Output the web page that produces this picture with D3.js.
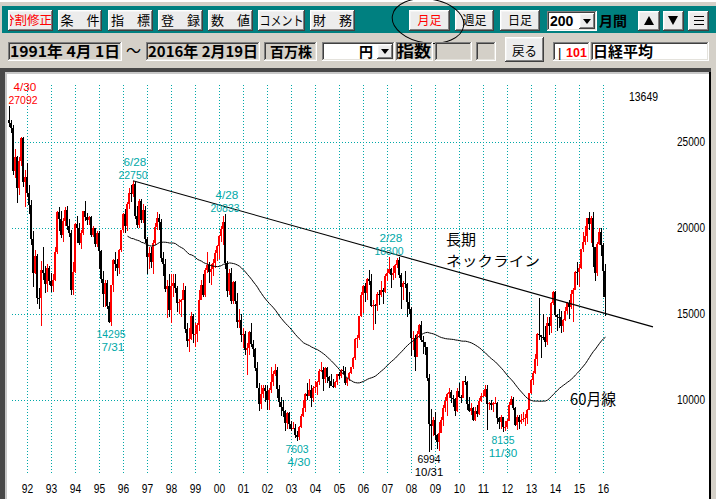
<!DOCTYPE html>
<meta charset="utf-8">
<style>
body{margin:0;background:#d4d0c8;overflow:hidden}
svg{display:block}
</style>
<script src="https://d3js.org/d3.v7.min.js"></script>
<svg width="716" height="499"></svg>
<script>
// Nikkei 225 monthly, 1991-04 .. 2016-02
var startYear = 1991, startMonth = 4;
var firstOpen = 26292;
var closes = [
  26111,25790,23291,24120,22336,23916,25222,22687,22984,
  22023,21339,19346,17391,18348,15952,15910,17555,17399,16767,17684,16925,
  16627,16953,18591,20919,20552,19590,20380,21027,20105,19704,16408,17417,
  20229,19997,19111,19725,20973,20644,20462,20628,19564,19990,19076,19723,
  18650,17053,16140,16807,15437,14517,16678,18117,17913,17655,18744,19868,
  20813,20125,21407,22041,21956,22531,20692,20167,21556,20467,21020,19361,
  18330,18557,18003,19151,20068,20604,20331,18229,17888,16458,16636,15259,
  16628,16831,16527,15641,15670,15830,16379,14108,13406,13564,14883,13842,
  13859,14367,15837,16702,16112,17530,17862,17437,17605,17942,18558,18934,
  19540,19959,20337,17974,16332,17411,15727,16861,15747,14539,14649,13786,
  13843,12883,12999,13934,13262,12969,11860,10713,9774,10366,10697,10543,
  9997,10587,11024,11492,11763,10621,9877,9619,9383,8640,9216,8579,
  8340,8363,7973,7831,8425,9083,9563,10344,10219,10560,10101,10677,
  10783,11041,11715,11762,11236,11858,11325,11081,10823,10771,11030,11488,
  11388,11740,11668,11009,11277,11584,11899,12413,13574,13607,14872,16111,
  16650,16205,17059,16906,15467,15505,15456,16140,16127,16399,16274,17225,
  17383,17604,17287,17400,17875,18138,17248,16569,16785,16737,15680,15307,
  13592,13603,12525,13849,14338,13481,13376,13072,11259,8576,8512,8859,
  7994,7568,8109,8828,9522,9958,10356,10492,10133,10034,9345,10546,
  10198,10126,11089,11057,9768,9382,9537,8824,9369,9202,9937,10228,
  10237,10624,9755,9849,9693,9816,9833,8955,8700,8988,8434,8455,
  8802,9723,10084,9521,8543,9007,8695,8840,8870,8928,9446,10395,
  11138,11559,12397,13860,13774,13677,13668,13388,14455,14327,15661,16291,
  14914,14841,14827,14304,14632,15162,15620,15424,16173,16413,17459,17450,
  17674,18798,19207,19520,20563,20236,20585,18890,17388,19083,19747,19034,
  17518,15967
];
var highs = [
  27092,26300,26000,24600,24200,24100,25300,25300,23400,
  23800,22500,21600,19800,18700,18500,16500,18100,18900,17800,17900,17800,
  17400,17300,18900,21000,21200,21000,20600,21200,21300,20500,19900,18000,
  20300,20700,20300,19900,21000,21552,20900,20700,20700,20100,20000,19800,
  19800,18700,17500,17000,17000,15700,16700,18200,18600,18200,18800,19900,
  20900,21100,21500,22300,22500,22750,22700,21300,21700,21700,21400,21300,
  19500,18900,18900,19300,20300,20910,20800,20500,18600,18200,17000,17300,
  17300,17300,17300,16600,15900,15900,16800,16600,14500,14200,15100,15000,
  14500,14500,16400,17000,17300,17700,18600,18000,17900,18200,18700,19000,
  19600,20100,20700,20833,18100,17600,17700,16900,16900,16200,15300,15000,
  14200,14000,13300,14000,14500,13500,13000,12200,11000,10900,10900,10900,
  10900,10700,11900,11700,12081,11900,10900,10200,10000,9400,9300,9300,
  8800,8700,8600,8200,8500,9200,10000,10400,11000,11238,10900,10800,
  11100,11100,11800,12195,11900,11900,11900,11400,11500,11200,11100,11500,
  11600,11800,12000,11900,11300,11600,11900,12500,13600,13800,14900,16300,
  16700,16800,17100,17563,17300,15800,15600,16300,16400,16900,16500,17300,
  17600,18300,17700,17800,17900,18240,18297,17400,16900,17488,16800,16300,
  15400,14000,13800,14000,14400,14600,13700,13400,13100,11500,9500,9000,
  9300,8000,8700,9000,9700,10170,10400,10700,10600,10300,10100,10700,
  11000,10300,11100,11400,11100,10200,9800,9600,9600,9700,10100,10400,
  10600,10900,10900,9900,10000,9900,10200,9900,9000,9100,9000,8800,
  8900,9900,10255,10200,9600,9100,9100,9200,9300,9200,9500,10400,
  11200,11700,12700,13900,15942,13800,15000,14300,14800,14800,15700,16320,
  16320,15000,15300,15200,14700,15400,15700,15800,16400,16500,17500,18030,
  17900,18800,19778,20133,20600,20952,20700,20946,18900,19200,20012,20000,
  19100,17905
];
var lows = [
  25880,25500,23100,22900,21456,21900,23600,22400,21200,
  21800,20800,19000,16598,17300,15600,15300,14309,17000,16200,16300,16700,
  16300,16300,16900,18500,19800,19400,19200,20100,19900,19500,16078,16100,
  17370,19100,19000,18800,19600,20400,20200,20200,19500,19500,18900,18900,
  17600,16800,15381,15400,15300,14485,14295,16300,17500,17200,17300,18600,
  19700,19700,19800,21100,21500,21800,20500,20000,20000,20300,20300,19100,
  17300,17600,17700,17303,19000,19900,19900,18000,17200,16300,14775,14800,
  14488,16000,16200,15100,15000,14800,15800,13900,13100,12787,13500,13300,
  13100,13400,14000,15800,16000,16000,17400,16800,16700,17200,17700,18100,
  18200,19200,19000,17600,16000,16100,15600,15600,15600,14200,14200,13400,
  13000,12600,11433,12600,13100,12500,11700,10700,9382,9500,10100,9900,
  9400,9420,10400,10800,11400,10100,9600,9075,9000,8197,8300,8300,
  8200,8300,7800,7603,7700,8400,9000,9300,10000,10300,9600,9900,
  10400,10300,10900,11600,10505,11000,11000,10700,10800,10700,10700,10900,
  11200,11300,11500,10900,10800,11100,11500,11800,12300,13000,13500,14800,
  15059,15700,15800,16700,15400,14045,14400,15200,15500,16000,15600,16200,
  16900,17300,16500,17000,17100,17700,17100,15262,15800,16500,14800,15000,
  12572,12900,11691,12500,13600,13400,12700,12600,11100,6994,7100,7900,
  7700,7150,7055,8100,8500,9300,9050,10100,9800,9600,9080,9300,
  10100,9800,10100,10900,9400,9300,9100,8800,8800,9000,9100,9900,
  10200,10200,8227,9400,9400,9300,9800,8600,8300,8300,8135,8200,
  8300,8800,9700,9400,8500,8238,8300,8600,8700,8500,8600,9400,
  10350,10900,11500,12000,13500,12415,13500,13100,13200,13800,13900,15500,
  14800,13995,14200,13885,13960,14600,15000,14700,15300,14529,16400,16700,
  16592,17600,18600,19000,19200,19900,19100,17714,16901,17200,19000,18400,
  16017,14865
];
var maLength = 60;
var yearLabels = ["92","93","94","95","96","97","98","99","00","01","02","03","04",
                  "05","06","07","08","09","10","11","12","13","14","15","16"];
var priceTicks = [10000, 15000, 20000, 25000];
var marks = [
  ["1991-04", 27092, "4/30"],
  ["1995-07", 14295, "7/31"],
  ["1996-06", 22750, "6/28"],
  ["2000-04", 20833, "4/28"],
  ["2003-04", 7603, "4/30"],
  ["2007-02", 18300, "2/28"],
  ["2008-10", 6994, "10/31"],
  ["2011-11", 8135, "11/30"]
];
var neckline = [["1996-06", 22750], ["2018-02", 14250]];

var svg = d3.select("svg");
var JP = "'Noto Sans CJK JP', sans-serif";
var NUM = "'Liberation Sans', Arial, sans-serif";
var CYAN = "#00a8a8";

function monthIdx(s) {
  var p = s.split("-");
  return (+p[0] - startYear) * 12 + (+p[1] - startMonth);
}

// ---------- window chrome ----------
svg.append("rect").attr("width", 716).attr("height", 499).attr("fill", "#d4d0c8");
svg.append("rect").attr("width", 716).attr("height", 2).attr("fill", "#ffffff");
svg.append("rect").attr("x", 2).attr("y", 6).attr("width", 714).attr("height", 27).attr("fill", "#008080");

function bevel(x0, y0, w, h, raised, face) {
  var g = svg.append("g").attr("shape-rendering", "crispEdges").attr("fill", "none");
  g.append("rect").attr("x", x0).attr("y", y0).attr("width", w).attr("height", h).attr("fill", face);
  var c = raised ? ["#ffffff", "#404040", "#f4f4f4", "#808080"] : ["#808080", "#ffffff", "#404040", "#e4e2dc"];
  g.append("path").attr("stroke", c[0]).attr("d", "M" + (x0 + .5) + "," + (y0 + h - 1) + "V" + (y0 + .5) + "H" + (x0 + w - 1));
  g.append("path").attr("stroke", c[1]).attr("d", "M" + x0 + "," + (y0 + h - .5) + "H" + (x0 + w - .5) + "V" + y0);
  g.append("path").attr("stroke", c[2]).attr("d", "M" + (x0 + 1.5) + "," + (y0 + h - 2) + "V" + (y0 + 1.5) + "H" + (x0 + w - 2));
  g.append("path").attr("stroke", c[3]).attr("d", "M" + (x0 + 1) + "," + (y0 + h - 1.5) + "H" + (x0 + w - 1.5) + "V" + (y0 + 1));
  return g;
}
function label(t, xx, yy, opt) {
  opt = opt || {};
  var s = svg.append("text").attr("x", xx).attr("y", yy).text(t)
    .attr("font-family", opt.font || JP).attr("font-size", opt.size || 13)
    .attr("font-weight", opt.bold ? "bold" : "normal")
    .attr("fill", opt.color || "#000").attr("text-anchor", opt.anchor || "start");
  if (opt.len) s.attr("textLength", opt.len).attr("lengthAdjust", "spacingAndGlyphs");
  return s;
}

// row 1 buttons
var row1 = [
  [58, 44, "条　件"], [108, 45, "指　標"], [158, 45, "登　録"], [208, 45, "数　値"],
  [258, 47, "コメント"], [310, 45, "財　務"]
];
bevel(8, 10, 45, 21, true, "#ececec");
svg.append("clipPath").attr("id", "b1").append("rect").attr("x", 10).attr("y", 10).attr("width", 42).attr("height", 21);
label("分割修正", 52, 25, {color: "#ff0000", anchor: "end", size: 12.5}).attr("clip-path", "url(#b1)");
row1.forEach(function(b) {
  bevel(b[0], 10, b[1], 21, true, "#ececec");
  label(b[2], b[0] + b[1] / 2, 25, {anchor: "middle", len: b[2] === "コメント" ? 44 : null});
});
[[409, 41, "月足", "#ff0000"], [455, 39, "週足", "#000"], [500, 40, "日足", "#000"]].forEach(function(b) {
  bevel(b[0], 10, b[1], 21, true, "#ececec");
  label(b[2], b[0] + b[1] / 2, 25, {anchor: "middle", size: 12, color: b[3]});
});
bevel(547, 11, 50, 20, false, "#ffffff");
label("200", 550, 26, {font: NUM, size: 14, bold: true});
bevel(579, 13, 16, 16, true, "#ececec");
svg.append("path").attr("d", "M583,19H591L587,24Z").attr("fill", "#000");
label("月間", 599, 26, {size: 14, bold: true});
bevel(638, 11, 22, 20, true, "#ececec");
svg.append("path").attr("d", "M644,25H654L649,16Z").attr("fill", "#000");
bevel(663, 11, 21, 20, true, "#ececec");
svg.append("path").attr("d", "M668,16H678L673,25Z").attr("fill", "#000");
bevel(688, 11, 21, 20, true, "#ececec");
svg.append("path").attr("d", "M693.5,16.5H703.5M693.5,20.5H703.5M693.5,24.5H703.5").attr("stroke", "#000").attr("shape-rendering", "crispEdges");

// hand-drawn circle around 月足
svg.append("ellipse").attr("cx", 0).attr("cy", 0).attr("rx", 36).attr("ry", 22)
  .attr("transform", "translate(428,21) rotate(8)")
  .attr("fill", "none").attr("stroke", "#000").attr("stroke-width", 1);

// row 2
bevel(8, 42, 114, 19, false, "#d4d0c8");
label("1991年 4月 1日", 10, 57, {size: 15, bold: true, len: 110});
label("～", 126, 56, {size: 15});
bevel(146, 42, 114, 19, false, "#d4d0c8");
label("2016年 2月19日", 148, 57, {size: 15, bold: true, len: 110});
bevel(264, 42, 53, 19, false, "#d4d0c8");
label("百万株", 291, 57, {size: 14, bold: true, anchor: "middle"});
bevel(322, 42, 73, 19, false, "#ffffff");
label("円", 366, 57, {size: 14, bold: true, anchor: "middle"});
bevel(377, 44, 16, 15, true, "#ececec");
svg.append("path").attr("d", "M381,49H389L385,54Z").attr("fill", "#000");
bevel(396, 42, 37, 19, false, "#d4d0c8");
label("指数", 397, 57, {size: 16, bold: true, len: 34});
bevel(435, 42, 37, 19, false, "#d4d0c8");
bevel(476, 42, 20, 19, false, "#d4d0c8");
bevel(505, 37, 39, 25, true, "#ececec");
label("戻る", 524.5, 56, {size: 12.5, anchor: "middle"});
bevel(553, 42, 37, 19, false, "#ffffff");
label("|", 558, 57, {font: NUM, size: 13});
label("101", 566, 57, {font: NUM, size: 12.5, bold: true, color: "#ff0000"});
bevel(591, 42, 118, 19, false, "#ffffff");
label("日経平均", 593, 57, {size: 15, bold: true});

// chart frame
svg.append("rect").attr("x", 0).attr("y", 68).attr("width", 711).attr("height", 431).attr("fill", "#484848");
svg.append("rect").attr("x", 5).attr("y", 72).attr("width", 706).attr("height", 427).attr("fill", "#c8c8c8");
svg.append("rect").attr("x", 7).attr("y", 74).attr("width", 702).attr("height", 425).attr("fill", "#ffffff");
svg.append("rect").attr("x", 709).attr("y", 72).attr("width", 2).attr("height", 427).attr("fill", "#000");

// ---------- chart ----------
var n = closes.length;
var x = d3.scaleLinear().domain([0, n - 1]).range([9, 9 + 2 * (n - 1)]);
var y = d3.scaleLinear().domain([10000, 25000]).range([400, 142]);

var yearIdx = yearLabels.map(function(d, k) { return monthIdx((1992 + k) + "-01"); });

var grid = svg.append("g").attr("stroke", CYAN).attr("stroke-dasharray", "1,2")
  .attr("shape-rendering", "crispEdges");
grid.selectAll(".h").data(priceTicks).enter().append("line")
  .attr("x1", 12).attr("x2", 609)
  .attr("y1", function(d) { return Math.round(y(d)) + .5; })
  .attr("y2", function(d) { return Math.round(y(d)) + .5; });
grid.selectAll(".v").data(yearIdx).enter().append("line")
  .attr("y1", 85).attr("y2", 473)
  .attr("x1", function(d) { return x(d) + .5; })
  .attr("x2", function(d) { return x(d) + .5; });

// axes
var xAxis = d3.axisBottom(x).tickValues(yearIdx).tickSize(0)
  .tickFormat(function(d) { return yearLabels[yearIdx.indexOf(d)]; });
var gx = svg.append("g").attr("transform", "translate(0,481)").call(xAxis);
gx.select(".domain").remove();
gx.selectAll("text").attr("font-family", NUM).attr("font-size", 12).attr("fill", "#000")
  .attr("textLength", 11.4).attr("lengthAdjust", "spacingAndGlyphs");

var yAxis = d3.axisLeft(y).tickValues(priceTicks).tickSize(0).tickFormat(d3.format("d"));
var gy = svg.append("g").attr("transform", "translate(708,0)").call(yAxis);
gy.select(".domain").remove();
gy.selectAll("text").attr("font-family", NUM).attr("font-size", 12).attr("fill", "#000")
  .attr("textLength", 28).attr("lengthAdjust", "spacingAndGlyphs");

// candles
var bars = closes.map(function(c, i) {
  return {i: i, o: i ? closes[i - 1] : firstOpen, h: highs[i], l: lows[i], c: c};
});
var cg = svg.append("g").attr("shape-rendering", "crispEdges");
var cand = cg.selectAll("g").data(bars).enter().append("g")
  .attr("fill", function(d) { return d.c >= d.o ? "#ff0000" : "#000000"; });
cand.append("rect")
  .attr("x", function(d) { return x(d.i); }).attr("width", 1)
  .attr("y", function(d) { return Math.round(y(d.h)); })
  .attr("height", function(d) { return Math.max(1, Math.round(y(d.l)) - Math.round(y(d.h))); });
cand.append("rect")
  .attr("x", function(d) { return x(d.i) - 1; }).attr("width", 2)
  .attr("y", function(d) { return Math.round(y(Math.max(d.o, d.c))); })
  .attr("height", function(d) { return Math.max(1, Math.round(y(Math.min(d.o, d.c))) - Math.round(y(Math.max(d.o, d.c)))); });

// 60-month moving average
var ma = [];
for (var i = maLength - 1; i < n; i++) {
  ma.push({i: i, v: d3.mean(closes.slice(i - maLength + 1, i + 1))});
}
svg.append("path").datum(ma)
  .attr("d", d3.line().x(function(d) { return x(d.i) + .5; }).y(function(d) { return y(d.v); }))
  .attr("fill", "none").attr("stroke", "#000").attr("stroke-width", 1);

// neckline
svg.append("line")
  .attr("x1", x(monthIdx(neckline[0][0]))).attr("y1", y(neckline[0][1]))
  .attr("x2", x(monthIdx(neckline[1][0]))).attr("y2", y(neckline[1][1]))
  .attr("stroke", "#000").attr("stroke-width", 1.1);

// peak / trough labels
var maxH = d3.max(highs), minL = d3.min(lows);
marks.forEach(function(m) {
  var i = monthIdx(m[0]), v = m[1], vs = String(v);
  var isHigh = highs[i] === v;
  var col = v === maxH ? "#ff0000" : (v === minL ? "#000000" : CYAN);
  var cx = Math.max(x(i), 23), yy = y(v);
  var dOff = m[2].length === 4 ? 2 : 0;
  var o = {font: NUM, size: 11, color: col, anchor: "middle"};
  label(vs, cx, isHigh ? yy - 2 : yy + 11.5, Object.assign({len: vs.length * 5.8}, o));
  label(m[2], cx + dOff, isHigh ? yy - 15 : yy + 24.5, Object.assign({len: m[2].length * 5.7}, o));
});

// current MA value
label(String(Math.round(ma[ma.length - 1].v)), 629, 101, {font: NUM, size: 12, len: 29});

// annotations
label("長期", 446, 245, {size: 14.5, len: 30});
label("ネックライン", 446, 265.5, {size: 14, len: 94});
label("60月線", 570, 405, {size: 15.5, len: 46});
</script>
